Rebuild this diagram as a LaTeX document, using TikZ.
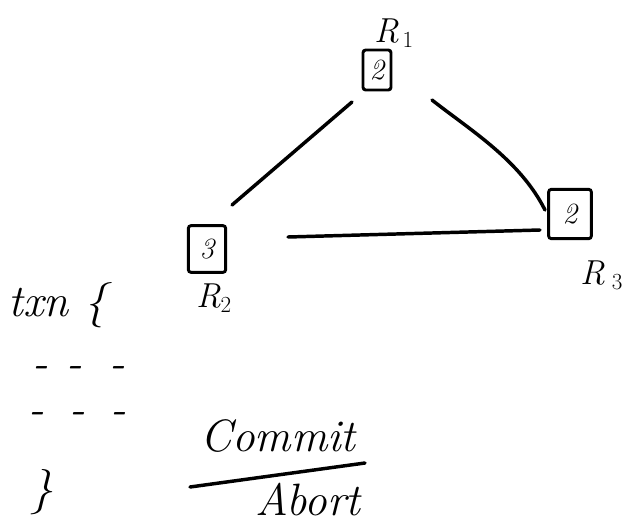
\documentclass[tikz,border=0pt]{standalone}
\usetikzlibrary{calc}
\begin{document}
\begin{tikzpicture}[x=0.75pt,y=-0.75pt,
  ink/.style={line width=2.6pt,line cap=round,black},
  replica/.style={draw,line width=2.2pt,rounded corners=2pt,inner sep=0pt,font=\fontsize{22}{24}\selectfont\itshape},
  lbl/.style={font=\fontsize{26}{28}\selectfont\itshape,inner sep=0pt},
  big/.style={font=\fontsize{34}{38}\selectfont\itshape,inner sep=0pt}]
\useasboundingbox (0,0) rectangle (643,525);
% replicas
\node[replica,minimum width=21pt,minimum height=30pt] (b1) at (377,70) {2};
\node[replica,minimum width=28pt,minimum height=35pt] (b2) at (207,249) {3};
\node[replica,minimum width=32pt,minimum height=37pt] (b3) at (570,214) {2};
% labels
\node[lbl] (l1) at (394,33) {R$_{\,1}$};
\node[lbl] (l2) at (214,298) {R$_2$};
\node[lbl] (l3) at (602,275) {R$_{\;3}$};
% connectors
\coordinate (a1) at (352,102);
\coordinate (a2) at (232,205);
\coordinate (c1) at (432,100);
\coordinate (c3) at (545,210);
\coordinate (d2) at (288,237);
\coordinate (d3) at (540,230);
\draw[ink] (a1) -- (a2);
\draw[ink] (c1) .. controls (470,130) and (520,160) .. (c3);
\draw[ink] (d2) -- (d3);
% transaction
\node[big,anchor=west] (txn) at (8,305) {txn \{};
\node[big] (d11) at (40,372) {-};
\node[big] (d12) at (74,372) {-};
\node[big] (d13) at (117,372) {-};
\node[big] (d21) at (36,418) {-};
\node[big] (d22) at (77,418) {-};
\node[big] (d23) at (118,418) {-};
\node[big] (close) at (42,492) {\}};
% commit / abort
\node[big] (commit) at (278,436) {Commit};
\node[big] (abort) at (308,500) {Abort};
\coordinate (e1) at (190,487);
\coordinate (e2) at (365,463);
\draw[ink] (e1) -- (e2);
\end{tikzpicture}
\end{document}
